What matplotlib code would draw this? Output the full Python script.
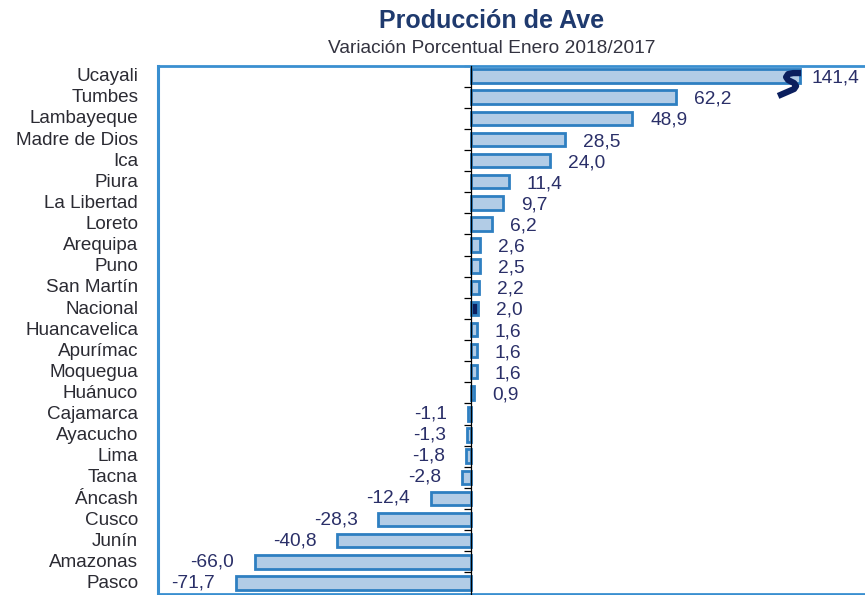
import numpy as np
import matplotlib
matplotlib.use("Agg")
import matplotlib.pyplot as plt
import matplotlib.transforms as mtransforms

plt.rcParams['font.family'] = ['Liberation Sans', 'DejaVu Sans']

# datos
regiones = ["Ucayali", "Tumbes", "Lambayeque", "Madre de Dios", "Ica", "Piura",
            "La Libertad", "Loreto", "Arequipa", "Puno", "San Martín", "Nacional",
            "Huancavelica", "Apurímac", "Moquegua", "Huánuco", "Cajamarca",
            "Ayacucho", "Lima", "Tacna", "Áncash", "Cusco", "Junín", "Amazonas",
            "Pasco"]
variacion = [141.4, 62.2, 48.9, 28.5, 24.0, 11.4, 9.7, 6.2, 2.6, 2.5, 2.2, 2.0,
             1.6, 1.6, 1.6, 0.9, -1.1, -1.3, -1.8, -2.8, -12.4, -28.3, -40.8,
             -66.0, -71.7]
tope = 100  # la barra de Ucayali se corta aqui

azul_borde = "#2e7fc1"
azul_relleno = "#b2cce6"
azul_oscuro = "#0b1f5e"
marco = "#3a8fd0"
texto_valor = "#2a2f68"

fig = plt.figure(figsize=(8.65, 5.95), dpi=100)
ax = fig.add_axes([158 / 865, 1.5 / 595, 1 - 158 / 865, (594 - 66) / 595])

y = np.arange(len(regiones))
mostrar = np.minimum(variacion, tope)
rellenos = [azul_oscuro if r == "Nacional" else azul_relleno for r in regiones]
ax.barh(y, mostrar, height=0.64, color=rellenos, edgecolor=azul_borde,
        linewidth=2, zorder=2)

ax.set_xlim(-95.4, 119.8)
ax.set_ylim(len(regiones) - 0.58, -0.47)

# eje en cero
ax.spines['left'].set_position(('data', 0))
ax.spines['left'].set_color('black')
ax.spines['left'].set_linewidth(0.9)
ax.spines['left'].set_zorder(3)
ax.spines['right'].set_visible(False)
for s in ['top', 'bottom']:
    ax.spines[s].set_color(marco)
    ax.spines[s].set_linewidth(2)
ax.plot([0, 0], [0, 1], transform=ax.transAxes, color=marco, lw=2.2,
        clip_on=False, zorder=5)

ax.set_xticks([])
ax.set_yticks([])
ax.set_yticks(np.arange(-0.5, len(regiones), 1), minor=True)
ax.tick_params(axis='y', which='minor', length=5, width=0.9, color='black',
               direction='out', labelleft=False)

trans = mtransforms.blended_transform_factory(ax.transAxes, ax.transData)
for i, r in enumerate(regiones):
    ax.text(-0.028, i + 0.03, r, transform=trans, ha='right', va='center',
            fontsize=13.6, color='#2b2b33')

for i, (v, m) in enumerate(zip(variacion, mostrar)):
    etiqueta = f"{v:.1f}".replace('.', ',')
    if v >= 0:
        off = 8 if v > tope else 13
        ax.annotate(etiqueta, (m, i), xytext=(off, -1.5), textcoords='offset points',
                    ha='left', va='center', fontsize=13.8, color=texto_valor)
    else:
        ax.annotate(etiqueta, (m, i), xytext=(-15, 0), textcoords='offset points',
                    ha='right', va='center', fontsize=13.8, color=texto_valor,
                    annotation_clip=False)

# simbolo de corte (trazo en S)
sx = np.array([11, 3, -2, -4, -2, 4, 6, 4, -12]) / 3.287
sy = np.array([-10, -10, -9, -6, -3, 0, 3, 6, 13]) / 21.25
ax.plot(tope - 3 + sx, 0.33 + sy, color=azul_oscuro, lw=4.5, solid_capstyle='butt',
        solid_joinstyle='round', zorder=6, clip_on=False)

fig.text(0.568, 1 - 28 / 595, "Producción de Ave", ha='center', va='baseline',
         fontsize=18, fontweight='bold', color='#1f3a6e')
fig.text(0.568, 1 - 53 / 595, "Variación Porcentual Enero 2018/2017", ha='center',
         va='baseline', fontsize=13.8, color='#333340')

fig.savefig("out.png", dpi=100)
